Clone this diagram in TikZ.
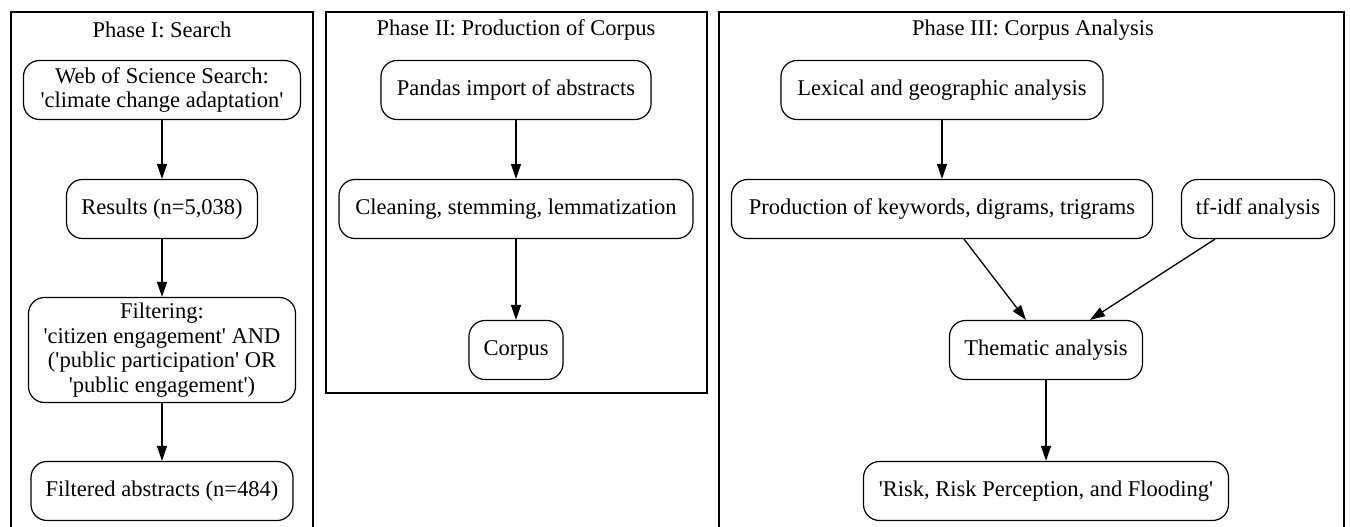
\documentclass[tikz,border=0pt]{standalone}
\usepackage{fontspec}
\setmainfont{Liberation Serif}
\usetikzlibrary{arrows.meta}
\newcommand{\sq}{\textquotesingle}
\begin{document}
\begin{tikzpicture}[x=1pt,y=-1pt,
  box/.style={draw, line width=1.2pt, rounded corners=16pt, minimum height=59pt, inner sep=0pt, align=center, font=\fontsize{22.5}{24.5}\selectfont},
  title/.style={font=\fontsize{22.5}{24.5}\selectfont, inner sep=0pt},
  cluster/.style={draw, line width=1.2pt},
  arr/.style={line width=1.3pt, -{Triangle[length=15pt,width=10pt]}}]
\useasboundingbox (0,0) rectangle (1350,527);
% clusters
\draw[cluster] (11,12) rectangle (313,540);
\draw[cluster] (326,12) rectangle (707,393);
\draw[cluster] (719,12) rectangle (1344,540);
\node[title] (t1) at (162,30) {Phase I: Search};
\node[title] (t2) at (516,30) {Phase II: Production of Corpus};
\node[title] (t3) at (1033,30) {Phase III: Corpus Analysis};
% Phase I
\node[box, minimum width=277pt] (wos) at (162,90) {Web of Science Search:\\\sq climate change adaptation\sq};
\node[box, minimum width=191pt] (res) at (162,209) {Results (n=5,038)};
\node[box, minimum width=267pt, minimum height=105pt] (filt) at (162,350) {Filtering:\\\sq citizen engagement\sq{} AND\\(\sq public participation\sq{} OR\\\sq public engagement\sq)};
\node[box, minimum width=262pt] (fabs) at (162,491) {Filtered abstracts (n=484)};
% Phase II
\node[box, minimum width=270pt] (pand) at (516,90) {Pandas import of abstracts};
\node[box, minimum width=354pt] (clean) at (516,209) {Cleaning, stemming, lemmatization};
\node[box, minimum width=94pt] (corp) at (516,350) {Corpus};
% Phase III
\node[box, minimum width=322pt] (lex) at (942,90) {Lexical and geographic analysis};
\node[box, minimum width=421pt] (prod) at (942,209) {Production of keywords, digrams, trigrams};
\node[box, minimum width=153pt] (tfidf) at (1258,209) {tf-idf analysis};
\node[box, minimum width=193pt] (them) at (1046,350) {Thematic analysis};
\node[box, minimum width=365pt] (risk) at (1046,491) {\sq Risk, Risk Perception, and Flooding\sq};
% edges
\draw[arr] (wos) -- (res);
\draw[arr] (res) -- (filt);
\draw[arr] (filt) -- (fabs);
\draw[arr] (pand) -- (clean);
\draw[arr] (clean) -- (corp);
\draw[arr] (lex) -- (prod);
\draw[arr] ([xshift=22pt]prod.south) -- ([xshift=-20pt]them.north);
\draw[arr] ([xshift=-43pt]tfidf.south) -- ([xshift=44pt]them.north);
\draw[arr] (them) -- (risk);
\end{tikzpicture}
\end{document}
